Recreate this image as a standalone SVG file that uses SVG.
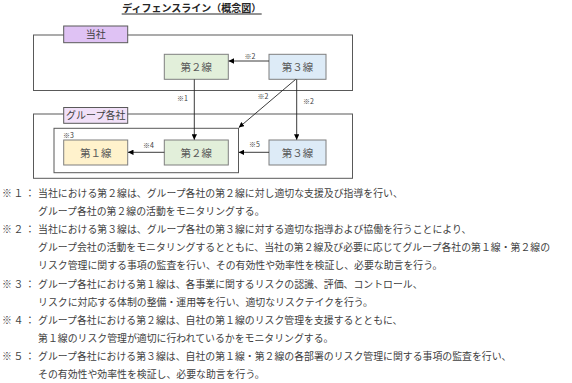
<svg xmlns="http://www.w3.org/2000/svg" width="572" height="383" viewBox="0 0 572 383">
<defs>
<style>
text{font-family:"Noto Sans CJK JP","Noto Sans CJK SC",sans-serif;fill:#404040}
.t{font-size:10px;font-weight:bold;fill:#262626}
.frame{fill:none;stroke:#595959;stroke-width:1}
.lbl{font-size:10px;fill:#404040;text-anchor:middle}
.box{stroke:#7f7f7f;stroke-width:1}
.bt{font-size:10.5px;fill:#595959;text-anchor:middle}
.n{font-size:7px;fill:#404040}
.b{font-size:9.9px;fill:#404040}
.c{fill:none;stroke:#262626;stroke-width:0.9}
</style>
<marker id="ah" viewBox="0 0 10 10" refX="10" refY="5" markerWidth="5.5" markerHeight="5.5" markerUnits="userSpaceOnUse" orient="auto">
<path d="M0,0 L10,5 L0,10 z" fill="#000"/>
</marker>
</defs>
<rect width="572" height="383" fill="#fff"/>
<g id="title">
<text class="t" x="191.7" y="12" text-anchor="middle">ディフェンスライン（概念図）</text>
<line x1="121.7" y1="14" x2="261.7" y2="14" stroke="#262626" stroke-width="1"/>
</g>
<g id="toshaGroup">
<rect class="frame" x="33.5" y="35" width="319" height="55.5"/>
<rect x="63.7" y="26" width="64" height="16.7" fill="#dfc2f4" stroke="#595959" stroke-width="1"/>
<text class="lbl" x="95.7" y="37.5">当社</text>
</g>
<g id="groupCompanies">
<rect class="frame" x="33.5" y="114" width="319" height="64.3" stroke-width="1.2"/>
<rect x="63.7" y="107.5" width="64" height="15.8" fill="#f1e0f8" stroke="#595959" stroke-width="1"/>
<text class="lbl" x="95.7" y="119.2">グループ各社</text>
</g>
<g id="innerBox">
<rect class="frame" x="54" y="128.3" width="184.5" height="44.4"/>
</g>
<g id="t2">
<rect class="box" x="164.3" y="54.3" width="64" height="25" fill="#e2efda"/>
<text class="bt" x="196.3" y="70.8">第２線</text>
</g>
<g id="t3">
<rect class="box" x="269" y="54.3" width="57" height="25" fill="#ddebf7"/>
<text class="bt" x="297.5" y="70.8">第３線</text>
</g>
<g id="g1">
<rect class="box" x="63.7" y="140" width="64" height="25" fill="#fff2cc"/>
<text class="bt" x="95.7" y="156.5">第１線</text>
</g>
<g id="g2">
<rect class="box" x="164.3" y="140" width="64" height="25" fill="#e2efda"/>
<text class="bt" x="196.3" y="156.5">第２線</text>
</g>
<g id="g3">
<rect class="box" x="269" y="140" width="57" height="25" fill="#ddebf7"/>
<text class="bt" x="297.5" y="156.5">第３線</text>
</g>
<g id="connectors">
<line class="c" x1="269" y1="61" x2="228.5" y2="61" marker-end="url(#ah)"/>
<line class="c" x1="194.3" y1="79.3" x2="194.3" y2="139.7" marker-end="url(#ah)"/>
<line class="c" x1="296.7" y1="79.3" x2="296.7" y2="139.7" marker-end="url(#ah)"/>
<line class="c" x1="295.7" y1="79.3" x2="238.8" y2="127.6" marker-end="url(#ah)"/>
<line class="c" x1="164.3" y1="152.3" x2="128" y2="152.3" marker-end="url(#ah)"/>
<line class="c" x1="269" y1="152.3" x2="238.8" y2="152.3" marker-end="url(#ah)"/>
<text class="n" x="244.5" y="58.5">※2</text>
<text class="n" x="177" y="100.5">※1</text>
<text class="n" x="257.5" y="98.5">※2</text>
<text class="n" x="303" y="103.5">※2</text>
<text class="n" x="63" y="138">※3</text>
<text class="n" x="143" y="147.5">※4</text>
<text class="n" x="249" y="146.5">※5</text>
</g>
<g id="notes">
<text class="b" x="2 13.5 25" y="196.6">※１：</text>
<text class="b" x="38" y="196.6">当社における第２線は、グループ各社の第２線に対し適切な支援及び指導を行い、</text>
<text class="b" x="38" y="214.8">グループ各社の第２線の活動をモニタリングする。</text>
<text class="b" x="2 13.5 25" y="232.9">※２：</text>
<text class="b" x="38" y="232.9">当社における第３線は、グループ各社の第３線に対する適切な指導および協働を行うことにより、</text>
<text class="b" x="38" y="251.1">グループ会社の活動をモニタリングするとともに、当社の第２線及び必要に応じてグループ各社の第１線・第２線の</text>
<text class="b" x="38" y="269.3">リスク管理に関する事項の監査を行い、その有効性や効率性を検証し、必要な助言を行う。</text>
<text class="b" x="2 13.5 25" y="287.5">※３：</text>
<text class="b" x="38" y="287.5">グループ各社における第１線は、各事業に関するリスクの認識、評価、コントロール、</text>
<text class="b" x="38" y="305.6">リスクに対応する体制の整備・運用等を行い、適切なリスクテイクを行う。</text>
<text class="b" x="2 13.5 25" y="323.8">※４：</text>
<text class="b" x="38" y="323.8">グループ各社における第２線は、自社の第１線のリスク管理を支援するとともに、</text>
<text class="b" x="38" y="342">第１線のリスク管理が適切に行われているかをモニタリングする。</text>
<text class="b" x="2 13.5 25" y="360.1">※５：</text>
<text class="b" x="38" y="360.1">グループ各社における第３線は、自社の第１線・第２線の各部署のリスク管理に関する事項の監査を行い、</text>
<text class="b" x="38" y="378.3">その有効性や効率性を検証し、必要な助言を行う。</text>
</g>
</svg>
